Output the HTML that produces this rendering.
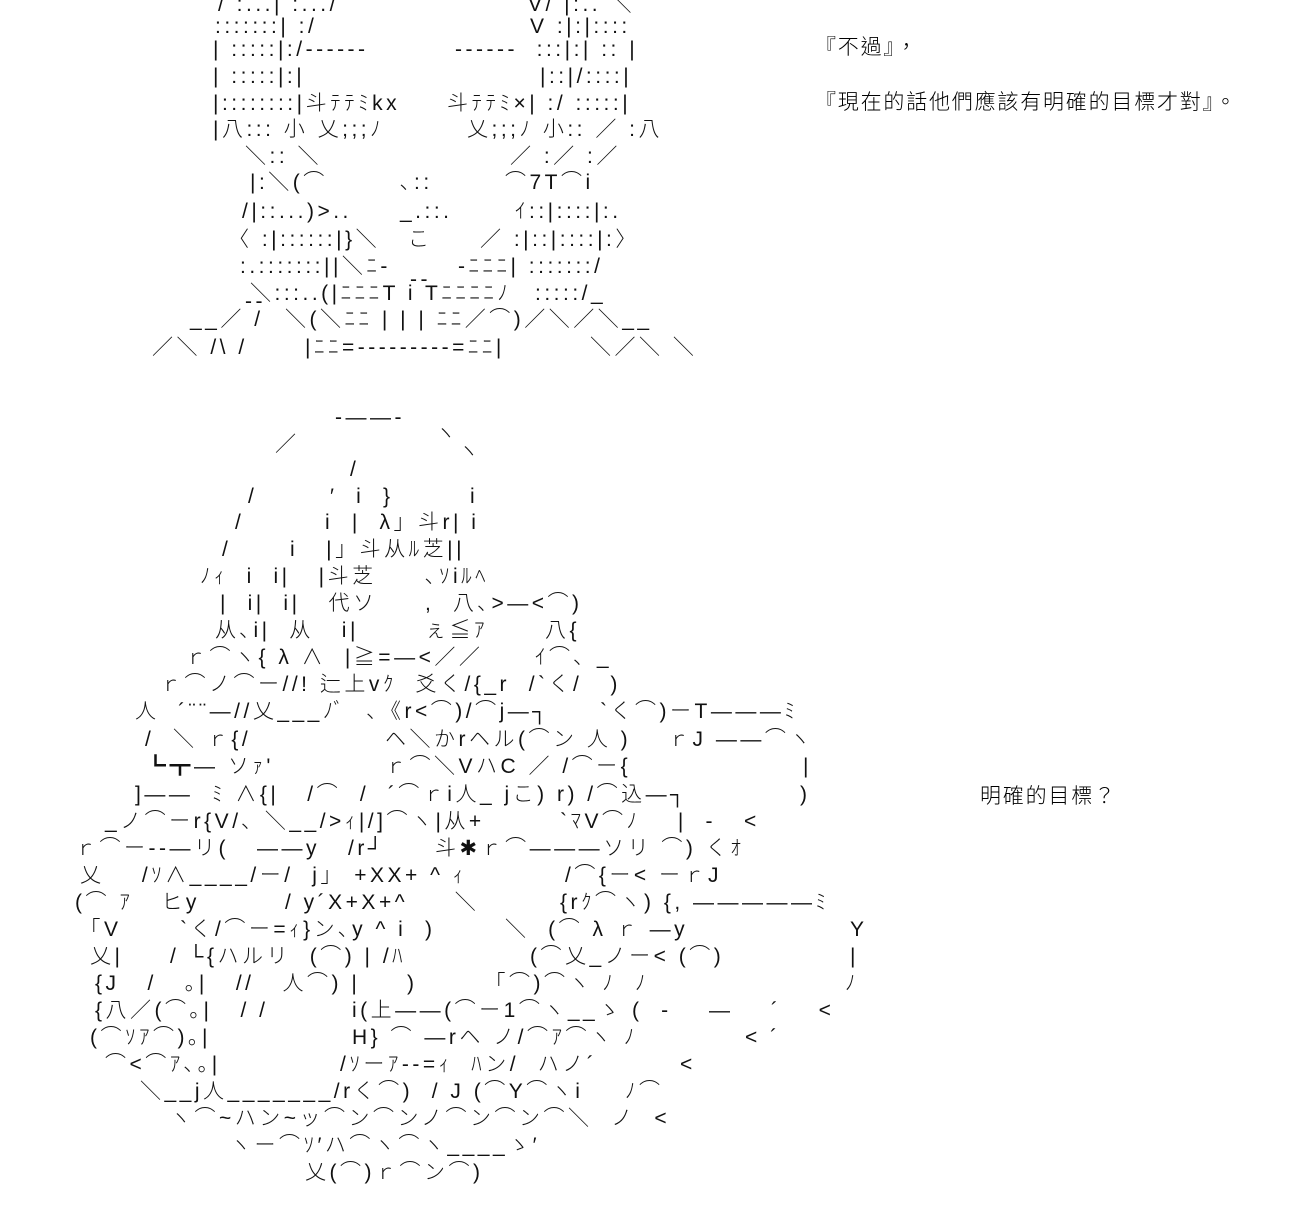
<!DOCTYPE html>
<html><head><meta charset="utf-8">
<style>
body{margin:0;background:#fff;width:1300px;height:1220px;overflow:hidden;position:relative}
s{position:absolute;text-decoration:none;white-space:pre;font-family:"Liberation Sans","Noto Sans CJK JP",sans-serif;font-size:21px;letter-spacing:3.5px;line-height:24px;color:#111;font-weight:300}
.t{font-family:"Liberation Sans","Noto Sans CJK TC",sans-serif;font-size:21px;letter-spacing:1.8px;color:#000}
</style></head><body>
<s class="t" style="left:815px;top:36px">『不過』，</s>
<s class="t" style="left:815px;top:91px">『現在的話他們應該有明確的目標才對』。</s>
<s class="t" style="left:980px;top:785px">明確的目標？</s>

<s style="left:218px;top:-7px">/ :...| :.../</s><s style="left:528px;top:-7px">V/ |:.. ＼</s>
<s style="left:215px;top:15px">:::::::| :/</s><s style="left:530px;top:15px">V :|:|::::</s>
<s style="left:213px;top:38px">| :::::|:/------</s><s style="left:455px;top:38px">------  :::|:| :: |</s>
<s style="left:213px;top:65px">| :::::|:|</s><s style="left:540px;top:65px">|::|/::::|</s>
<s style="left:213px;top:92px">|::::::::|斗ﾃﾃﾐkx</s><s style="left:447px;top:92px">斗ﾃﾃﾐ×| :/ :::::|</s>
<s style="left:213px;top:118px">|八::: 小 乂;;;ﾉ</s><s style="left:467px;top:118px">乂;;;ﾉ 小:: ／ :八</s>
<s style="left:245px;top:145px">＼:: ＼</s><s style="left:510px;top:145px">／ :／ :／</s>
<s style="left:250px;top:171px">|:＼(⌒</s><s style="left:400px;top:171px">､::</s><s style="left:505px;top:171px">⌒7T⌒i</s>
<s style="left:242px;top:200px">/|::...)>..</s><s style="left:400px;top:200px">_.::.</s><s style="left:515px;top:200px">ｲ::|::::|:.</s>
<s style="left:228px;top:228px">〈 :|::::::|}＼</s><s style="left:408px;top:228px">こ</s><s style="left:480px;top:228px">／ :|::|::::|:〉</s>
<s style="left:240px;top:255px">:.:::::::||＼ﾆ-</s><s style="left:410px;top:268px">--</s><s style="left:458px;top:255px">-ﾆﾆﾆ| :::::::/</s>
<s style="left:250px;top:282px">＼:::..(|ﾆﾆﾆT i Tﾆﾆﾆﾆﾉ</s><s style="left:535px;top:282px">:::::/_</s><s style="left:245px;top:290px">--</s>
<s style="left:190px;top:308px">__／ /</s><s style="left:285px;top:308px">＼(＼ﾆﾆ | | | ﾆﾆ／⌒)／＼／＼__</s>
<s style="left:152px;top:336px">／＼ /\ /</s><s style="left:305px;top:336px">|ﾆﾆ=---------=ﾆﾆ|</s><s style="left:590px;top:336px">＼／＼ ＼</s>

<s style="left:335px;top:406px">-――-</s>
<s style="left:275px;top:433px">／</s><s style="left:435px;top:422px">ヽ</s><s style="left:458px;top:440px">ヽ</s>
<s style="left:350px;top:458px">/</s>
<s style="left:248px;top:485px">/</s><s style="left:330px;top:485px">′  i  }</s><s style="left:470px;top:485px">i</s>
<s style="left:235px;top:511px">/</s><s style="left:325px;top:511px">i  |  λ」斗r| i</s>
<s style="left:222px;top:538px">/</s><s style="left:290px;top:538px">i   |」斗从ﾙ芝||</s>
<s style="left:200px;top:565px">ﾉｨ  i  i|   |斗芝</s><s style="left:425px;top:565px">､ｿiﾙﾍ</s>
<s style="left:220px;top:592px">|  i|  i|   代ソ</s><s style="left:425px;top:592px">,  八､>―&lt;⌒)</s>
<s style="left:215px;top:619px">从､i|  从   i|</s><s style="left:425px;top:619px">ぇ≦ｱ</s><s style="left:545px;top:619px">八{</s>
<s style="left:185px;top:646px">ｒ⌒ヽ{ λ ∧  |≧=―&lt;／／</s><s style="left:535px;top:646px">ｲ⌒､ _</s>
<s style="left:160px;top:673px">ｒ⌒ノ⌒ー//! 辷上vｸ  爻く/{_r  /`く/   )</s>
<s style="left:135px;top:700px">人  ´¨¨―//乂___ﾉﾞ  、《r&lt;⌒)/⌒j―┐</s><s style="left:600px;top:700px">`く⌒)ーT―――ﾐ</s>
<s style="left:145px;top:728px">/  ＼ ｒ{/</s><s style="left:385px;top:728px">ヘ＼かrヘル(⌒ン 人 )</s><s style="left:668px;top:728px">ｒJ ――⌒ヽ</s>
<s style="left:145px;top:755px">┗┳― ソｧ'</s><s style="left:385px;top:755px">ｒ⌒＼VハC ／ /⌒ー{</s><s style="left:803px;top:755px">|</s>
<s style="left:135px;top:783px">]――  ﾐ ∧{|   /⌒  /  ´⌒ｒi人_ jこ) r) /⌒込―┐</s><s style="left:800px;top:783px">)</s>
<s style="left:105px;top:810px">_ノ⌒ーr{V/､ ＼__/>ｨ|/]⌒ヽ|从+</s><s style="left:560px;top:810px">`ﾏV⌒ﾉ    |  -   &lt;</s>
<s style="left:75px;top:837px">ｒ⌒ー--―リ(   ――y   /r┘</s><s style="left:435px;top:837px">斗✱ｒ⌒―――ソリ ⌒) くｵ</s>
<s style="left:80px;top:864px">乂    /ｿ∧____/ー/  j」 +XX+ ^ ｨ</s><s style="left:565px;top:864px">/⌒{ー&lt; ーｒJ</s>
<s style="left:75px;top:891px">(⌒ ｱ   ヒy</s><s style="left:285px;top:891px">/ y´X+X+^     ＼</s><s style="left:560px;top:891px">{rｸ⌒ヽ) {, ―――――ﾐ</s>
<s style="left:90px;top:918px">｢V</s><s style="left:180px;top:918px">`く/⌒ー=ｨ}ン､y ^ i  )</s><s style="left:505px;top:918px">＼  (⌒ λ ｒ ―y</s><s style="left:850px;top:918px">Y</s>
<s style="left:90px;top:945px">乂|</s><s style="left:170px;top:945px">/ └{ハルリ  (⌒) | /ﾊ</s><s style="left:530px;top:945px">(⌒乂_ノー&lt; (⌒)</s><s style="left:850px;top:945px">|</s>
<s style="left:95px;top:972px">{J   /   ｡|   //   人⌒) |     )</s><s style="left:495px;top:972px">｢⌒)⌒ヽ ﾉ  ﾉ</s><s style="left:845px;top:972px">ﾉ</s>
<s style="left:95px;top:999px">{八／(⌒｡|   / /</s><s style="left:352px;top:999px">i(上――(⌒ー1⌒ヽ__ゝ</s><s style="left:632px;top:999px">(  -    ―    ´    &lt;</s>
<s style="left:90px;top:1026px">(⌒ｿｱ⌒)｡|</s><s style="left:352px;top:1026px">H} ⌒ ―rヘ ノ/⌒ｱ⌒ヽ ﾉ</s><s style="left:745px;top:1026px">&lt; ´</s>
<s style="left:105px;top:1053px">⌒&lt;⌒ｱ､｡|</s><s style="left:340px;top:1053px">/ｿーｱ--=ｨ  ﾊン/  ハノ´</s><s style="left:680px;top:1053px">&lt;</s>
<s style="left:140px;top:1080px">＼__j人_______/rく⌒)  / J (⌒Y⌒ヽi</s><s style="left:625px;top:1080px">ﾉ⌒</s>
<s style="left:170px;top:1107px">ヽ⌒~ハン~ッ⌒ン⌒ンノ⌒ン⌒ン⌒＼  ノ  &lt;</s>
<s style="left:230px;top:1134px">ヽー⌒ｿ′ハ⌒ヽ⌒ヽ____ゝ′</s>
<s style="left:305px;top:1161px">乂(⌒)ｒ⌒ン⌒)</s>
</body></html>
